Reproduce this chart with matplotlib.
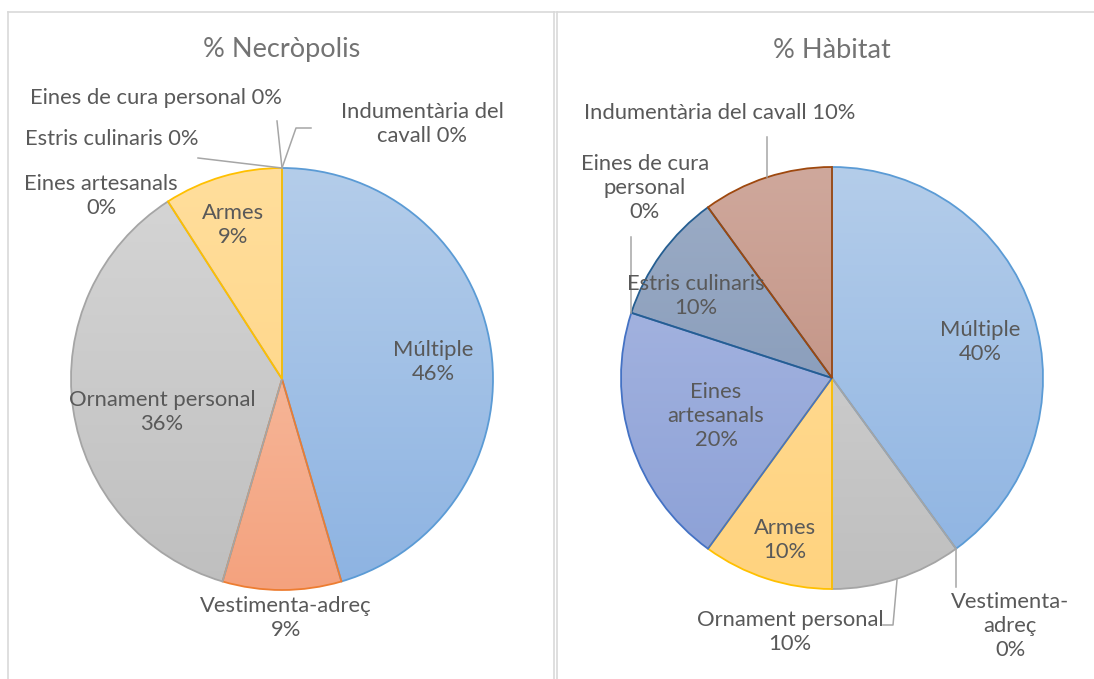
import numpy as np
import matplotlib
matplotlib.use("Agg")
import matplotlib.pyplot as plt
from matplotlib.colors import to_rgb

plt.rcParams['font.family'] = ['Lato', 'DejaVu Sans']

# categories (same order for both charts, Excel series order)
categories = ['Múltiple', 'Vestimenta-adreç', 'Ornament personal', 'Armes',
              'Eines artesanals', 'Eines de cura personal', 'Estris culinaris',
              'Indumentària del cavall']
# percentages
necropolis = [45.5, 9.1, 36.4, 9.1, 0, 0, 0, 0]
habitat = [40, 0, 10, 10, 20, 0, 10, 10]

# edge colours and gradient (top, bottom) fills
edge_colors = ['#5B9BD5', '#ED7D31', '#A5A5A5', '#FFC000',
               '#4472C4', '#70AD47', '#255E91', '#9E480E']
grad_top = ['#B4CDEA', '#F8C8B0', '#D6D6D6', '#FFDE9C',
            '#AEBBE3', '#B6D8A2', '#9DADC6', '#CFA89C']
grad_bot = ['#8DB3E2', '#F4A27E', '#BFBFBF', '#FFD37F',
            '#8A9FD6', '#94C47A', '#7A91B3', '#BB8676']

TXT = '#595959'
FS = 15.8

W, H = 1094, 679
R = 211
fig = plt.figure(figsize=(W / 100, H / 100), dpi=100)


def pct(v):
    return f'{int(v + 0.5)}%'


def add_pie_axes(x0, x1):
    ax = fig.add_axes([x0 / W, 0, (x1 - x0) / W, (H - 12) / H])
    ax.axis('off')
    return ax


def set_limits(ax, x0, x1, cx, cy):
    ax.set_aspect('auto')
    ax.set_xlim((x0 - cx) / R, (x1 - cx) / R)
    ax.set_ylim((cy - H) / R, (cy - 12) / R)


def draw_pie(ax, values):
    wedges, _ = ax.pie(values, startangle=90, counterclock=False, radius=1,
                       wedgeprops=dict(linewidth=1.3))
    for i, w in enumerate(wedges):
        if values[i] == 0:
            w.set_visible(False)
            continue
        t, b = np.array(to_rgb(grad_top[i])), np.array(to_rgb(grad_bot[i]))
        f = np.linspace(0, 1, 256)[:, None, None]
        img = t * (1 - f) + b * f
        im = ax.imshow(img, extent=(-1, 1, -1, 1), origin='upper',
                       aspect='auto', zorder=1)
        im.set_clip_path(w)
        w.set_facecolor('none')
        w.set_edgecolor(edge_colors[i])
        w.set_zorder(2)


def label(ax, x, y, s, cx, cy, fs=FS, color=TXT):
    ax.text((x - cx) / R, (cy - y) / R, s, ha='center', va='center',
            fontsize=fs, color=color, linespacing=1.25, zorder=5)


def leader(ax, pts, cx, cy):
    xs = [(p[0] - cx) / R for p in pts]
    ys = [(cy - p[1]) / R for p in pts]
    ax.plot(xs, ys, color='#A6A6A6', lw=1.1, zorder=4)


# ---- left: Necròpolis
cxL, cyL = 282, 379
axL = add_pie_axes(8, 555)
draw_pie(axL, necropolis)
set_limits(axL, 8, 555, cxL, cyL)
pL = [pct(v) for v in necropolis]
label(axL, 282, 50, '% Necròpolis', cxL, cyL, fs=19.5, color='#737373')
label(axL, 433, 362, f'{categories[0]}\n{pL[0]}', cxL, cyL)
label(axL, 286, 618, f'{categories[1]}\n{pL[1]}', cxL, cyL)
label(axL, 162, 412, f'{categories[2]}\n{pL[2]}', cxL, cyL)
label(axL, 233, 225, f'{categories[3]}\n{pL[3]}', cxL, cyL)
label(axL, 101, 196, 'Eines artesanals\n' + pL[4], cxL, cyL)
label(axL, 156, 98, f'{categories[5]} {pL[5]}', cxL, cyL)
label(axL, 112, 139, f'{categories[6]} {pL[6]}', cxL, cyL)
label(axL, 422, 124, 'Indumentària del\n' + f'cavall {pL[7]}', cxL, cyL)
leader(axL, [(282, 168), (277, 121)], cxL, cyL)
leader(axL, [(282, 168), (198, 158)], cxL, cyL)
leader(axL, [(282, 168), (296, 128), (311, 128)], cxL, cyL)

# ---- right: Hàbitat
cxR, cyR = 832, 378
axR = add_pie_axes(557, 1094)
draw_pie(axR, habitat)
set_limits(axR, 557, 1094, cxR, cyR)
pR = [pct(v) for v in habitat]
label(axR, 832, 50, '% Hàbitat', cxR, cyR, fs=19.5, color='#737373')
label(axR, 980, 342, f'{categories[0]}\n{pR[0]}', cxR, cyR)
label(axR, 1010, 626, 'Vestimenta-\nadreç\n' + pR[1], cxR, cyR)
label(axR, 790, 632, f'{categories[2]}\n{pR[2]}', cxR, cyR)
label(axR, 785, 540, f'{categories[3]}\n{pR[3]}', cxR, cyR)
label(axR, 716, 416, 'Eines\nartesanals\n' + pR[4], cxR, cyR)
label(axR, 645, 188, 'Eines de cura\npersonal\n' + pR[5], cxR, cyR)
label(axR, 696, 296, f'{categories[6]}\n{pR[6]}', cxR, cyR)
label(axR, 720, 113, f'{categories[7]} {pR[7]}', cxR, cyR)
leader(axR, [(767, 177), (767, 137)], cxR, cyR)
leader(axR, [(631, 313), (631, 237)], cxR, cyR)
leader(axR, [(956, 549), (956, 587)], cxR, cyR)
leader(axR, [(897, 580), (893, 625), (883, 625)], cxR, cyR)

# chart borders
bc = '#D9D9D9'
fig.add_artist(plt.Line2D([8 / W, 8 / W], [0, 1 - 12 / H], color=bc, lw=1.2))
fig.add_artist(plt.Line2D([8 / W, 555 / W], [1 - 12 / H] * 2, color=bc, lw=1.2))
fig.add_artist(plt.Line2D([554 / W, 554 / W], [0, 1 - 12 / H], color=bc, lw=1.2))
fig.add_artist(plt.Line2D([557 / W, 557 / W], [0, 1 - 12 / H], color=bc, lw=1.2))
fig.add_artist(plt.Line2D([557 / W, 1], [1 - 12 / H] * 2, color=bc, lw=1.2))

fig.savefig('out.png', dpi=100)
